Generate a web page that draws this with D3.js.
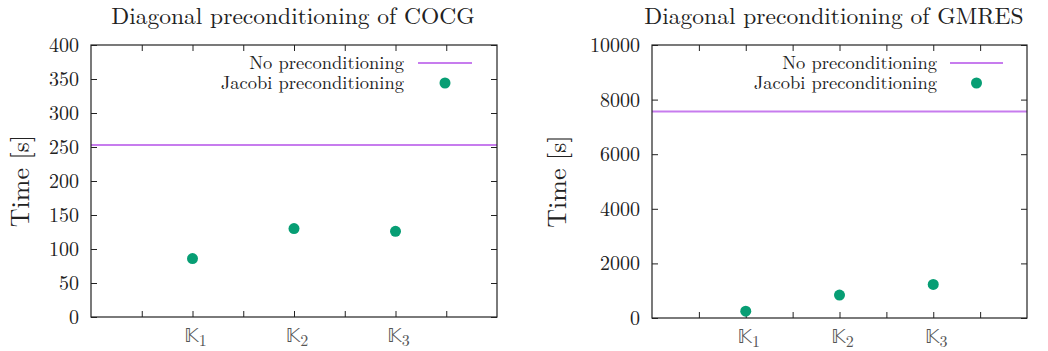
<!DOCTYPE html>
<html>
<head>
<meta charset="utf-8">
<script src="https://cdn.jsdelivr.net/npm/d3@7"></script>
<style>
  body { margin: 0; background: #fff; }
  .domain { display: none; }
  .tick line { stroke: #222; }
</style>
</head>
<body>
<div id="chart"></div>
<script>
// values
const subscripts = ["1", "2", "3"];
const xCats = [1, 2, 3];
const xTicks = [0.5, 1, 1.5, 2, 2.5, 3, 3.5];

const cocgNone = 253;
const cocgJacobi = [86, 130, 126];
const cocgTicks = [0, 50, 100, 150, 200, 250, 300, 350, 400];

const gmresNone = 7560;
const gmresJacobi = [250, 840, 1230];
const gmresTicks = [0, 2000, 4000, 6000, 8000, 10000];

const violet = "#c77cee", green = "#079e74";
const lm = "\"Latin Modern Roman\"";

const svg = d3.select("#chart").append("svg")
    .attr("width", 1048)
    .attr("height", 351);

const panels = [
  {title: "Diagonal preconditioning of COCG", none: cocgNone, jac: cocgJacobi, ticks: cocgTicks,
   box: {x0: 91, x1: 497, y0: 45, y1: 317}, ylabX: 29, titleX: 293, legEnd: 404, legLine: [418, 472]},
  {title: "Diagonal preconditioning of GMRES", none: gmresNone, jac: gmresJacobi, ticks: gmresTicks,
   box: {x0: 652, x1: 1027, y0: 45, y1: 318}, ylabX: 566, titleX: 834, legEnd: 937, legLine: [950, 1003]}
];

panels.forEach(p => {
  const b = p.box;
  const x = d3.scaleLinear().domain([0, 4]).range([b.x0, b.x1]);
  const y = d3.scaleLinear().domain([0, p.ticks[p.ticks.length - 1]]).range([b.y1, b.y0]);
  const g = svg.append("g");

  // title
  g.append("text")
    .attr("x", p.titleX)
    .attr("y", 24)
    .attr("text-anchor", "middle")
    .style("font-family", lm)
    .style("font-size", "23.5px")
    .style("fill", "#222")
    .text(p.title);

  // y axis label
  g.append("text")
    .attr("transform", `translate(${p.ylabX},${(b.y0 + b.y1) / 2}) rotate(-90)`)
    .attr("text-anchor", "middle")
    .style("font-family", lm)
    .style("font-size", "26px")
    .style("fill", "#222")
    .text("Time [s]");

  // axes, ticks pointing inward like gnuplot
  g.append("g")
    .attr("transform", `translate(${b.x0},0)`)
    .call(d3.axisLeft(y).tickValues(p.ticks).tickFormat(d3.format("d"))
      .tickSizeInner(-6).tickSizeOuter(0).tickPadding(12))
    .selectAll("text")
      .style("font-family", lm)
      .style("font-size", "20px")
      .style("fill", "#222");
  g.append("g")
    .attr("transform", `translate(${b.x1},0)`)
    .call(d3.axisRight(y).tickValues(p.ticks).tickSizeInner(-6).tickSizeOuter(0).tickFormat(""));
  g.append("g")
    .attr("transform", `translate(0,${b.y1})`)
    .call(d3.axisBottom(x).tickValues(xTicks).tickSizeInner(-6).tickSizeOuter(0).tickFormat(""));
  g.append("g")
    .attr("transform", `translate(0,${b.y0})`)
    .call(d3.axisTop(x).tickValues(xTicks).tickSizeInner(-6).tickSizeOuter(0).tickFormat(""));

  // x category labels: double-struck K with subscript
  const lab = g.selectAll(".klab").data(xCats).join("text")
    .attr("class", "klab")
    .attr("x", d => x(d) + 3)
    .attr("y", b.y1 + 25)
    .attr("text-anchor", "middle")
    .style("font-family", lm)
    .style("fill", "#555");
  lab.append("tspan")
    .style("font-family", "\"DejaVu Sans\"")
    .style("font-size", "19px")
    .text("\u{1D542}");
  lab.append("tspan")
    .attr("dy", 4)
    .style("font-size", "16px")
    .text((d, i) => subscripts[i]);

  // no preconditioning line
  g.append("line")
    .attr("x1", b.x0).attr("x2", b.x1)
    .attr("y1", y(p.none)).attr("y2", y(p.none))
    .attr("stroke", violet).attr("stroke-width", 2);

  // jacobi points
  g.selectAll(".pt").data(p.jac).join("circle")
    .attr("class", "pt")
    .attr("cx", (d, i) => x(xCats[i]))
    .attr("cy", d => y(d))
    .attr("r", 5.5)
    .attr("fill", green);

  // legend
  const leg = [["No preconditioning", 68.5], ["Jacobi preconditioning", 88.5]];
  g.selectAll(".legtext").data(leg).join("text")
    .attr("class", "legtext")
    .attr("x", p.legEnd)
    .attr("y", d => d[1])
    .attr("text-anchor", "end")
    .style("font-family", lm)
    .style("font-size", "18.5px")
    .style("fill", "#222")
    .text(d => d[0]);
  g.append("line")
    .attr("x1", p.legLine[0]).attr("x2", p.legLine[1])
    .attr("y1", 63).attr("y2", 63)
    .attr("stroke", violet).attr("stroke-width", 2);
  g.append("circle")
    .attr("cx", (p.legLine[0] + p.legLine[1]) / 2).attr("cy", 83)
    .attr("r", 5.5)
    .attr("fill", green);

  // border
  g.append("rect")
    .attr("x", b.x0).attr("y", b.y0)
    .attr("width", b.x1 - b.x0).attr("height", b.y1 - b.y0)
    .attr("fill", "none").attr("stroke", "#222").attr("stroke-width", 1.2);
});
</script>
</body>
</html>
